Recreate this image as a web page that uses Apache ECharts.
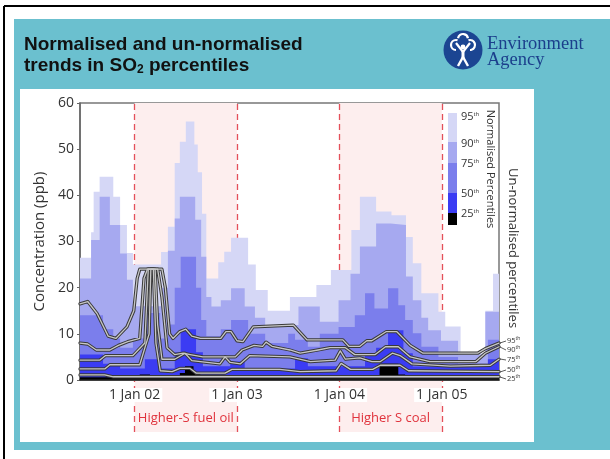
<!DOCTYPE html>
<html>
<head>
<meta charset="utf-8">
<title>SO2 percentiles</title>
<script src="https://cdn.jsdelivr.net/npm/echarts@6/dist/echarts.min.js"></script>
<style>
html, body {margin: 0; padding: 0; background: #fff; overflow: hidden;}
#chart {width: 610px; height: 459px;}
</style>
</head>
<body>
<div id="chart"></div>
<script>
// x values are months counted from 1 Jan 2002
var yearTicks = [0, 12, 24, 36];
var yearLabels = ['1 Jan 02', '1 Jan 03', '1 Jan 04', '1 Jan 05'];
var periods = [[0, 12, 'Higher-S fuel oil'], [24, 36, 'Higher S coal']];
var legendNames = ['95', '90', '75', '50', '25'];

// normalised percentiles, [month, ppb] where each step begins
var norm95 = [[-6.4,26.5],[-5.1,32],[-4.8,40.8],[-4.1,44],[-2.5,39.7],[-1.7,33.6],[-0.9,27.5],[-0.2,25],[3.1,27.7],[3.9,33.2],[4.7,47],[5.3,51.6],[6.0,56],[7.0,51],[7.4,45],[7.9,36],[8.4,22],[9.8,25.5],[10.5,27.8],[11.3,30.8],[13.3,25],[14.2,19.5],[15.6,15],[18.2,18],[21.3,20.6],[23.0,23.8],[25.4,32.5],[26.4,39.7],[28.3,36.5],[30.1,35.7],[31.8,31],[32.6,25.3],[33.6,18.8],[35.6,14.8],[36.4,11.6],[38.2,5.8],[41.1,15],[42.0,23],[42.7,23]];
var norm90 = [[-6.4,22],[-5.1,30.3],[-4.1,39.7],[-2.9,33.6],[-1.7,27.4],[-0.9,21.7],[-0.2,16],[3.1,20],[3.9,28],[4.7,35],[5.3,39.7],[7.1,34.7],[7.8,26.7],[8.4,18],[9.0,15.9],[10.1,17.3],[11.3,19.9],[12.9,15.9],[14.1,13.5],[15.3,11.9],[19.2,15.9],[21.7,12.6],[23.9,17.3],[25.3,23],[26.4,28.9],[28.3,33.9],[30.0,33.6],[31.8,22.4],[32.6,17.3],[33.6,13.5],[34.4,10.8],[35.9,8.5],[37.9,5.5],[41.1,14.8],[42.7,14.8]];
var norm75 = [[-6.4,14],[-3.7,11],[-2.5,9],[-1.7,7],[-0.2,9],[1.2,14.5],[3.0,9],[3.9,12],[4.7,20],[5.4,26.7],[7.2,20],[7.8,13],[8.4,9.5],[10.1,11],[11.3,13],[13.3,10],[15.3,8],[18.0,10],[18.8,8.7],[20.3,7.2],[21.7,10],[23.9,11.5],[25.8,14],[27.0,18.8],[28.1,15.5],[29.7,19.9],[30.9,16.2],[31.7,13],[32.6,10.1],[33.6,7.2],[35.6,5],[37.9,3.6],[41.4,8.7],[42.7,8.7]];
var norm50 = [[-6.4,5.5],[-3.7,3.5],[-1.7,2.5],[1.2,4.5],[3.0,2.5],[4.7,6],[5.4,11],[7.2,6],[8.0,3],[11.2,4],[12.9,2.5],[18.8,4.7],[20.3,3],[27.0,5.8],[28.3,7],[29.7,10.8],[31.5,5.8],[32.6,2.9],[41.4,4.5],[42.7,4.5]];
var norm25 = [[-6.4,0.6],[0.6,1.2],[1.8,0.6],[5.3,1.5],[5.9,3],[6.9,1.5],[7.7,0.6],[28.7,3.5],[30.9,1.2],[31.7,0.6],[42.7,0.6]];

// un-normalised percentiles, [month, ppb]
var unnorm95 = [[-6.4,16.5],[-5.5,17],[-4.4,14.4],[-3.1,9.5],[-2.2,9],[-0.9,11.5],[-0.1,15],[0.3,22],[0.6,24],[3.2,24],[3.6,20],[4.1,10],[4.5,9],[5.3,10.5],[6.0,11],[6.7,9.5],[7.7,9],[10.1,9],[10.7,10.5],[11.3,10.5],[12.0,8.5],[12.7,8.3],[13.9,11.5],[18.6,11.9],[20.2,8.7],[24.4,8.7],[25.1,7.3],[26.4,7.3],[27.2,8.5],[27.8,8.5],[29.5,10.5],[30.7,10.5],[32.3,7.5],[33.8,5.8],[40.2,5.8],[41.1,6.8],[42.7,8]];
var unnorm90 = [[-6.4,8],[-5.5,7.8],[-4.5,6.5],[-2.9,6.5],[-1.9,7.5],[-0.8,8.3],[0.6,9],[1.1,22],[1.5,24],[2.7,24],[3.2,18],[3.8,7],[4.7,5.5],[5.7,5.8],[6.5,5.5],[8.0,5],[11.8,5],[12.6,6.5],[14.0,7.5],[15.0,7.3],[15.4,8.2],[16.1,7.3],[18.2,6.5],[19.4,5.8],[21.5,6.5],[22.9,7],[24.7,7],[25.8,5.5],[28.2,5.5],[29.4,7.2],[30.9,7.2],[32.3,5],[34.6,4],[40.0,4],[41.1,5.8],[42.7,7.2]];
var unnorm75 = [[-6.4,4.3],[-4.1,4.3],[-3.4,5.3],[-0.2,5.3],[1.2,8],[1.6,24],[2.4,24],[2.7,12],[3.2,4.5],[4.7,4.5],[5.9,5.8],[6.7,4.2],[10.0,3.5],[10.6,5],[11.2,3.8],[12.4,3.5],[13.5,5.3],[18.2,5],[20.6,4],[23.5,4.3],[24.1,6.3],[24.7,4.5],[26.4,4.8],[27.8,4],[28.8,4],[30.2,5.8],[31.1,5.3],[32.5,3.5],[37.0,3],[41.7,3.2],[42.7,4.5]];
var unnorm50 = [[-6.4,2.4],[-3.5,2.4],[-2.9,3.3],[0.6,3.3],[1.7,10],[1.9,24],[2.2,24],[2.5,8],[3.0,2],[4.4,1.8],[5.3,2.5],[6.5,2.5],[7.2,1.5],[10.6,1.5],[11.4,2.3],[17.0,2.3],[19.4,1.8],[23.6,2],[24.2,3.6],[25.3,2.3],[27.9,2.3],[28.8,3.2],[31.1,3.2],[32.1,2],[42.7,1.8]];
var unnorm25 = [[-6.4,1.1],[-3.5,1.1],[-2.5,0.7],[42.7,0.7]];

var bandColors = ['#D5D7F6', '#A6A9F0', '#7B7EEC', '#3B3CF3', '#000000'];
var font = '"Open Sans", "Noto Sans", sans-serif';

var chart = echarts.init(document.getElementById('chart'));

function bandSeries(data, color, z) {
    return {
        type: 'line', step: 'end', data: data, symbol: 'none', silent: true,
        lineStyle: {width: 0, opacity: 0}, areaStyle: {color: color, opacity: 1}, z: z
    };
}

// grey line with a dark edge: drawn twice
function trendSeries(data) {
    return [{
        type: 'line', data: data, symbol: 'none', silent: true, z: 8,
        lineStyle: {color: '#3a3a3a', width: 3.3, join: 'round', cap: 'round'}
    }, {
        type: 'line', data: data, symbol: 'none', silent: true, z: 9,
        lineStyle: {color: '#c6c6c6', width: 1.3, join: 'round', cap: 'round'}
    }];
}

function pctText(n, x, y, big, small) {
    return {
        type: 'text', x: x, y: y, z: 20,
        style: {
            text: n + '{s|th}', fill: '#333', font: big + 'px ' + font, verticalAlign: 'middle',
            rich: {s: {fontSize: small, fontFamily: font, fill: '#333', padding: [0, 0, small, 0]}}
        }
    };
}

var dashStyle = {color: '#E4505A', type: [6, 4], width: 1.3};
var series = [];
// background periods and year lines in the plot
series.push({
    type: 'line', data: [], z: 1,
    markArea: {silent: true, z: 0, itemStyle: {color: '#FDEEEE'},
        data: periods.map(function (p) { return [{xAxis: p[0]}, {xAxis: p[1]}]; })},
    markLine: {silent: true, z: 1, symbol: 'none', label: {show: false}, lineStyle: dashStyle,
        data: yearTicks.map(function (v) { return {xAxis: v}; })}
});
// the same below the axis, with the period names
series.push({
    type: 'line', data: [], xAxisIndex: 1, yAxisIndex: 1, z: 1,
    markArea: {silent: true, z: 0, itemStyle: {color: '#FDEEEE'},
        label: {show: true, position: 'insideBottom', distance: 7, color: '#E0333D', fontSize: 13, fontFamily: font},
        data: periods.map(function (p) { return [{xAxis: p[0], name: p[2]}, {xAxis: p[1]}]; })},
    markLine: {silent: true, z: 1, symbol: 'none', label: {show: false}, lineStyle: dashStyle,
        data: yearTicks.map(function (v) { return {xAxis: v}; })}
});
[norm95, norm90, norm75, norm50, norm25].forEach(function (d, i) {
    series.push(bandSeries(d, bandColors[i], 3 + i * 0.1));
});
[unnorm95, unnorm90, unnorm75, unnorm50, unnorm25].forEach(function (d) {
    series = series.concat(trendSeries(d));
});

var logoText = '18.5px "Liberation Serif", "DejaVu Serif", serif';
var graphics = [
    {type: 'rect', z: -19, shape: {x: 14, y: 19, width: 620, height: 431}, style: {fill: '#6BC0CF'}},
    {type: 'rect', z: -18, shape: {x: 20, y: 89, width: 514, height: 353}, style: {fill: '#fff'}},
    {type: 'line', z: -17, shape: {x1: 4, y1: 6, x2: 640, y2: 6}, style: {stroke: '#000', lineWidth: 2}},
    {type: 'line', z: -17, shape: {x1: 4, y1: 6, x2: 4, y2: 480}, style: {stroke: '#000', lineWidth: 2}},
    {type: 'text', x: 24, y: 35, z: 20, style: {text: 'Normalised and un-normalised', fill: '#111', font: 'bold 19px "Liberation Sans", Arial, sans-serif'}},
    {type: 'text', x: 24, y: 55, z: 20, style: {
        text: '{a|trends in SO}{b|2}{a| percentiles}',
        rich: {
            a: {fontSize: 19, fontWeight: 'bold', fontFamily: '"Liberation Sans", Arial', fill: '#111'},
            b: {fontSize: 12, fontWeight: 'bold', fontFamily: '"Liberation Sans", Arial', fill: '#111', padding: [9, 0, 0, 0]}
        }}},
    // agency logo
    {type: 'circle', z: 20, shape: {cx: 463, cy: 50, r: 19.5}, style: {fill: '#1B4592'}},
    {type: 'arc', z: 21, shape: {cx: 456, cy: 45, r: 5, startAngle: Math.PI * 0.5, endAngle: Math.PI * 1.6}, style: {stroke: '#fff', lineWidth: 2.2}},
    {type: 'arc', z: 21, shape: {cx: 463, cy: 39, r: 5, startAngle: Math.PI * 1.05, endAngle: Math.PI * 1.95}, style: {stroke: '#fff', lineWidth: 2.2}},
    {type: 'arc', z: 21, shape: {cx: 470, cy: 45, r: 5, startAngle: Math.PI * 1.4, endAngle: Math.PI * 2.5}, style: {stroke: '#fff', lineWidth: 2.2}},
    {type: 'circle', z: 21, shape: {cx: 463, cy: 47, r: 2.4}, style: {fill: '#fff'}},
    {type: 'polyline', z: 21, shape: {points: [[456, 43], [463, 52], [470, 43]]}, style: {stroke: '#fff', lineWidth: 2.2, fill: null}},
    {type: 'polyline', z: 21, shape: {points: [[458, 66], [463, 57], [468, 66]]}, style: {stroke: '#fff', lineWidth: 2.4, fill: null}},
    {type: 'line', z: 21, shape: {x1: 463, y1: 51, x2: 463, y2: 58}, style: {stroke: '#fff', lineWidth: 3}},
    {type: 'text', x: 487, y: 35, z: 20, style: {text: 'Environment', fill: '#1B3F8C', font: logoText}},
    {type: 'text', x: 487, y: 51, z: 20, style: {text: 'Agency', fill: '#1B3F8C', font: logoText}},
    // legend titles
    {type: 'text', x: 490, y: 169, rotation: -Math.PI / 2, z: 20,
        style: {text: 'Normalised Percentiles', fill: '#333', font: '11px ' + font, align: 'center', verticalAlign: 'middle'}},
    {type: 'text', x: 513, y: 248, rotation: -Math.PI / 2, z: 20,
        style: {text: 'Un-normalised percentiles', fill: '#333', font: '13px ' + font, align: 'center', verticalAlign: 'middle'}}
];
// legend bar for normalised percentiles
var legendEdges = [113, 142, 163, 193, 213, 225];
legendNames.forEach(function (n, i) {
    graphics.push({type: 'rect', z: 20, shape: {x: 448, y: legendEdges[i], width: 9, height: legendEdges[i + 1] - legendEdges[i]},
        style: {fill: bandColors[i]}});
});
var legendLabelY = [117, 144, 164, 194, 214];
legendNames.forEach(function (n, i) {
    graphics.push(pctText(n, 461, legendLabelY[i], 11, 6));
});
// small labels for the un-normalised line ends
var endLabelY = [341, 350, 360, 370, 379];
var endLineY = [343, 347, 359, 372, 377];
legendNames.forEach(function (n, i) {
    graphics.push(pctText(n, 507, endLabelY[i], 7.5, 5));
    graphics.push({type: 'line', z: 20, shape: {x1: 500, y1: endLineY[i], x2: 506, y2: endLabelY[i]},
        style: {stroke: '#333', lineWidth: 0.8}});
});

var option = {
    animation: false,
    graphic: graphics,
    grid: [
        {left: 80, top: 103, right: 111, bottom: 79, show: true, borderColor: '#777', borderWidth: 1.5, backgroundColor: 'transparent'},
        {left: 80, top: 381, right: 111, bottom: 27}
    ],
    xAxis: [{
        type: 'value', gridIndex: 0, min: -6.4, max: 42.7, z: 10,
        splitLine: {show: false},
        axisLine: {onZero: false, lineStyle: {color: '#222', width: 1.5}},
        axisTick: {show: false},
        axisLabel: {
            customValues: yearTicks, color: '#333', fontSize: 14, fontFamily: font, margin: 8,
            backgroundColor: '#fff', padding: [0, 2],
            formatter: function (v) { return yearLabels[yearTicks.indexOf(v)]; }
        }
    }, {
        type: 'value', gridIndex: 1, min: -6.4, max: 42.7, show: false
    }],
    yAxis: [{
        type: 'value', gridIndex: 0, min: 0, max: 60, interval: 10,
        splitLine: {show: false},
        axisLine: {show: true, onZero: false, lineStyle: {color: '#666', width: 1.5}},
        axisTick: {show: true, length: 3, lineStyle: {color: '#666'}},
        axisLabel: {color: '#333', fontSize: 14, fontFamily: font, margin: 6},
        name: 'Concentration (ppb)', nameLocation: 'middle', nameGap: 30,
        nameTextStyle: {color: '#333', fontSize: 15, fontFamily: font}
    }, {
        type: 'value', gridIndex: 1, min: 0, max: 1, show: false
    }],
    series: series
};
chart.setOption(option);
</script>
</body>
</html>
